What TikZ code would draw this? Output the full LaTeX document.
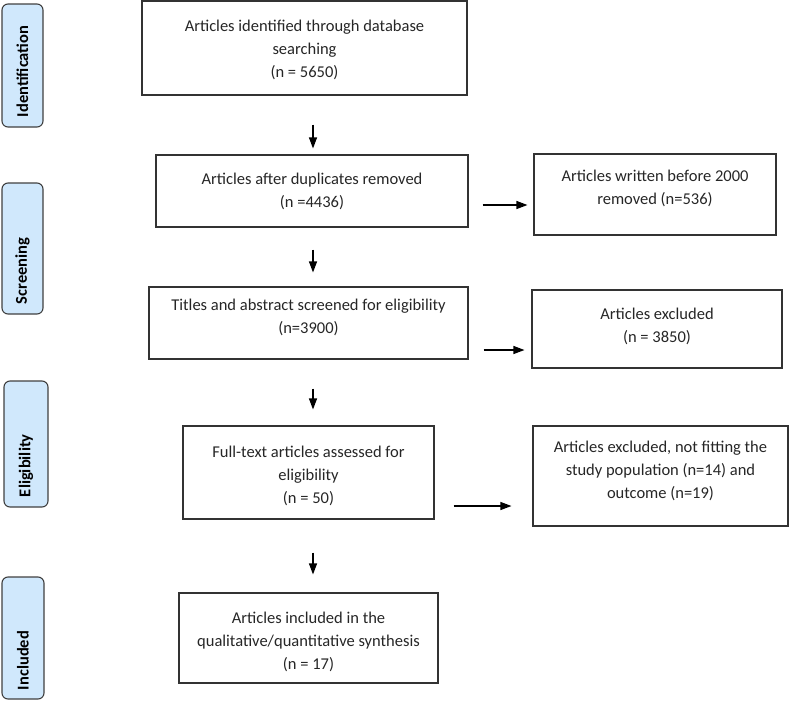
\documentclass[tikz,border=0pt]{standalone}
\usepackage{fontspec}
\setmainfont{Carlito}
\usetikzlibrary{arrows.meta}
\definecolor{tabblue}{RGB}{208,232,252}

\begin{document}
\begin{tikzpicture}[x=1pt,y=-1pt,->,>={Triangle[length=11pt,width=8pt]},
      line width=1.1pt,
      box/.style={rectangle,draw=black!80,inner sep=0pt},
      txt/.style={align=center,inner sep=0pt,yshift=#1,
      font=\fontsize{16.5}{23}\selectfont,text=black!85},
      txt/.default=0pt,
      tab/.style={draw=black!75,fill=tabblue,rounded corners=6pt},
      tab label/.style={rotate=90,anchor=west,inner sep=0pt,
      font=\fontsize{16.5}{20}\selectfont\bfseries}]
      \useasboundingbox (0,0) rectangle (796,702);

      %% THESE ARE THE STAGE TABS ON THE LEFT
      \node[tab,minimum width=41pt,minimum height=123pt] (idtab) at (22.5,65.5) {};
      \node[tab label] (idlbl) at ([yshift=10pt]idtab.south) {Identification};
      \node[tab,minimum width=41pt,minimum height=131pt] (scrtab) at (22.5,248.5) {};
      \node[tab label] (scrlbl) at ([yshift=10pt]scrtab.south) {Screening};
      \node[tab,minimum width=44pt,minimum height=126pt] (elitab) at (26,444) {};
      \node[tab label] (elilbl) at ([yshift=10pt]elitab.south) {Eligibility};
      \node[tab,minimum width=42pt,minimum height=122pt] (inctab) at (23,638) {};
      \node[tab label] (inclbl) at ([yshift=9pt]inctab.south) {Included};

      %% THESE ARE THE BOXES OF THE MAIN COLUMN
      \node[box,minimum width=325pt,minimum height=94pt,
            label={[txt=-2pt]center:{Articles identified through database\\searching\\(n = 5650)}}]
            (ident) at (304.5,48) {};
      \node[box,minimum width=312pt,minimum height=72pt,
            label={[txt]center:{Articles after duplicates removed\\(n =4436)}}]
            (dedup) at (312,191) {};
      \node[box,minimum width=319pt,minimum height=72pt,
            label={[txt=6pt]center:{Titles and abstract screened for eligibility\\(n=3900)}}]
            (screen) at (308.5,323) {};
      \node[box,minimum width=251pt,minimum height=93pt,
            label={[txt=-3pt]center:{Full-text articles assessed for\\eligibility\\(n = 50)}}]
            (fulltext) at (308.5,472.5) {};
      \node[box,minimum width=259pt,minimum height=90pt,
            label={[txt=-4pt]center:{Articles included in the\\qualitative/quantitative synthesis\\(n = 17)}}]
            (incl) at (308.5,638) {};

      %% THESE ARE THE BOXES ON THE RIGHT
      \node[box,minimum width=242pt,minimum height=81pt,
            label={[txt=6pt]center:{Articles written before 2000\\removed (n=536)}}]
            (rm2000) at (655,194.5) {};
      \node[box,minimum width=250pt,minimum height=78pt,
            label={[txt=3pt]center:{Articles excluded\\(n = 3850)}}]
            (excl) at (657,329) {};
      \node[box,minimum width=255pt,minimum height=100pt,
            label={[txt=5pt]center:{Articles excluded, not fitting the\\study population (n=14) and\\outcome (n=19)}}]
            (exclft) at (660.5,476) {};

      %% THE ARROWS RUN ALONG THESE LINES
      \coordinate (spine) at (313,0);
      \coordinate (row1) at (0,205);
      \coordinate (row2) at (0,350);
      \coordinate (row3) at (0,506);

      \path (ident.south -| spine) edge [shorten <=29pt,shorten >=6pt] (dedup.north -| spine)
        (dedup.south -| spine) edge [shorten <=22pt,shorten >=14pt] (screen.north -| spine)
        (screen.south -| spine) edge [shorten <=29pt,shorten >=16pt] (fulltext.north -| spine)
        (fulltext.south -| spine) edge [shorten <=33pt,shorten >=18pt] (incl.north -| spine)
        (dedup.east |- row1) edge [shorten <=14pt,shorten >=6pt] (rm2000.west |- row1)
        (screen.east |- row2) edge [shorten <=15pt,shorten >=7pt] (excl.west |- row2)
        (fulltext.east |- row3) edge [shorten <=19pt,shorten >=21pt] (exclft.west |- row3);
\end{tikzpicture}
\end{document}
